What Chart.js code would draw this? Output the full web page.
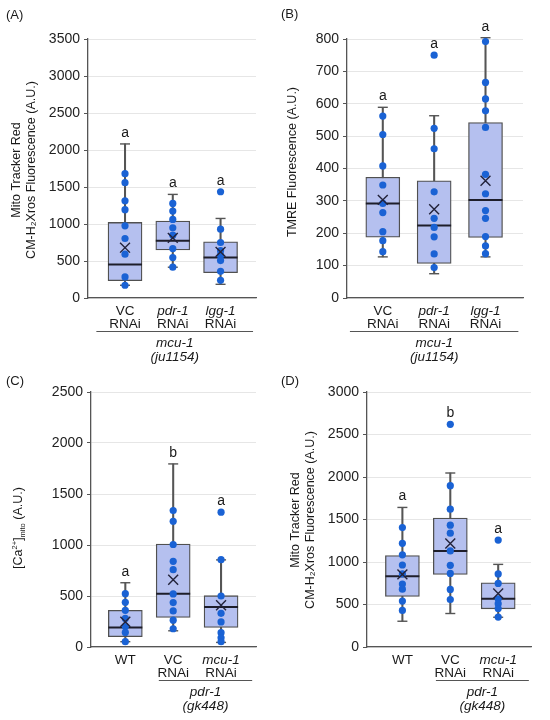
<!DOCTYPE html>
<html><head><meta charset="utf-8">
<script src="https://cdn.jsdelivr.net/npm/chart.js@4.4.1/dist/chart.umd.min.js"></script>
<style>
html,body{margin:0;padding:0;background:#fff;}
#wrap{position:relative;width:550px;height:720px;overflow:hidden;}
.pan{position:absolute;}
canvas{display:block;}
</style></head><body>
<div id="wrap">
<div class="pan" style="left:0;top:0"><canvas id="cA" width="275" height="372"></canvas></div>
<div class="pan" style="left:275px;top:0"><canvas id="cB" width="275" height="372"></canvas></div>
<div class="pan" style="left:0;top:360px"><canvas id="cC" width="275" height="360"></canvas></div>
<div class="pan" style="left:275px;top:360px"><canvas id="cD" width="275" height="360"></canvas></div>
</div>
<script>
// ---------- DATA ----------
// Panel A: Mito Tracker Red, mcu-1(ju1154)
const labelsA = [['VC','RNAi'],['pdr-1','RNAi'],['lgg-1','RNAi']];
const italicA = [false,true,true];
const groupA = ['mcu-1','(ju1154)'];
const lettersA = ['a','a','a'];
const yMaxA = 3500, yStepA = 500;
const whiskLowA  = [172, 416, 185];
const q1A        = [235, 650, 343];
const medianA    = [452, 772, 547];
const q3A        = [1021, 1039, 759];
const whiskHighA = [2082, 1400, 1075];
const meanA      = [680, 813, 623];
const ptsA_VC  = [1680, 1558, 1314, 1193, 976, 804, 592, 285, 172];
const ptsA_pdr = [1278, 1174, 1062, 949, 849, 668, 547, 416];
const ptsA_lgg = [1436, 930, 750, 640, 575, 506, 361, 239];

// Panel B: TMRE, mcu-1(ju1154)
const labelsB = [['VC','RNAi'],['pdr-1','RNAi'],['lgg-1','RNAi']];
const italicB = [false,true,true];
const groupB = ['mcu-1','(ju1154)'];
const lettersB = ['a','a','a'];
const yMaxB = 800, yStepB = 100;
const whiskLowB  = [127, 75, 127];
const q1B        = [188, 107, 187];
const medianB    = [292, 224, 303];
const q3B        = [373, 362, 542];
const whiskHighB = [589, 563, 804];
const meanB      = [303, 274, 362];
const ptsB_VC  = [562, 505, 408, 349, 292, 264, 205, 177, 143];
const ptsB_pdr = [750, 524, 461, 328, 246, 218, 189, 136, 94];
const ptsB_lgg = [792, 666, 615, 578, 527, 382, 322, 270, 246, 190, 161, 137];

// Panel C: [Ca2+]mito, pdr-1(gk448)
const labelsC = [['WT'],['VC','RNAi'],['mcu-1','RNAi']];
const italicC = [false,false,true];
const groupC = ['pdr-1','(gk448)'];
const lettersC = ['a','b','a'];
const yMaxC = 2500, yStepC = 500;
const whiskLowC  = [52, 159, 45];
const q1C        = [101, 289, 192];
const medianC    = [192, 523, 393];
const q3C        = [360, 1010, 503];
const whiskHighC = [630, 1795, 854];
const meanC      = [247, 659, 409];
const ptsC_WT  = [523, 438, 360, 280, 200, 143, 52];
const ptsC_VC  = [1338, 1233, 1005, 840, 758, 520, 436, 354, 263, 179];
const ptsC_mcu = [1322, 856, 500, 330, 246, 140, 90, 52];

// Panel D: Mito Tracker Red, pdr-1(gk448)
const labelsD = [['WT'],['VC','RNAi'],['mcu-1','RNAi']];
const italicD = [false,false,true];
const groupD = ['pdr-1','(gk448)'];
const lettersD = ['a','b','a'];
const yMaxD = 3000, yStepD = 500;
const whiskLowD  = [303, 394, 350];
const q1D        = [594, 854, 449];
const medianD    = [831, 1130, 567];
const q3D        = [1075, 1516, 756];
const whiskHighD = [1642, 2047, 972];
const meanD      = [854, 1217, 630];
const ptsD_WT  = [1405, 1220, 1085, 965, 860, 740, 680, 540, 430];
const ptsD_VC  = [2620, 1898, 1622, 1433, 1339, 1130, 961, 866, 677, 559];
const ptsD_mcu = [1258, 860, 748, 567, 510, 453, 352];

// ---------- DRAWING ----------
const FAM = '"Liberation Sans", Arial, Helvetica, sans-serif';
function font(size, italic){ return (italic ? 'italic ' : '') + size + 'px ' + FAM; }
const TXT = '#1a1a1a', AXIS = '#555';

function drawCaTitle(c, x, cy){
  c.save(); c.translate(x, cy); c.rotate(-Math.PI/2);
  const big = font(12.5), small = font(7.5);
  const parts = [['[Ca',big,0],['2+',small,-4.5],[']',big,0],['mito',small,4],[' (A.U.)',big,0]];
  let total = 0;
  parts.forEach(p => { c.font = p[1]; p.w = c.measureText(p[0]).width; total += p.w; });
  let px = -total/2; c.textAlign = 'left'; c.textBaseline = 'middle'; c.fillStyle = TXT;
  parts.forEach(p => { c.font = p[1]; c.fillText(p[0], px, p[2]); px += p.w; });
  c.restore();
}

function makePanel(id, P){
  const cv = document.getElementById(id);
  const H = cv.height, W = cv.width;
  const n = P.labels.length;
  const pts = [];
  P.points.forEach((arr, i) => arr.forEach(v => pts.push({x:i, y:v})));
  const caps = [];
  for (let i = 0; i < n; i++){ caps.push({x:i, y:P.lo[i]}); caps.push({x:i, y:P.hi[i]}); }

  const txtPlugin = {
    id: 'txt' + id,
    afterDraw(chart){
      const c = chart.ctx, xs = chart.scales.x, ys = chart.scales.y;
      const base = chart.chartArea.bottom;
      c.save();
      c.fillStyle = TXT; c.textAlign = 'center'; c.textBaseline = 'middle';
      // category labels
      P.labels.forEach((lab, i) => {
        const x = xs.getPixelForValue(i);
        c.font = font(13.5, P.italic[i]);
        c.fillText(lab[0], x, base + 13);
        if (lab.length > 1){ c.font = font(13.5, false); c.fillText(lab[1], x, base + 26.5); }
      });
      // bracket + group label
      const bx0 = xs.getPixelForValue(P.bracket[0]), bx1 = xs.getPixelForValue(P.bracket[1]);
      c.strokeStyle = AXIS; c.lineWidth = 1.2;
      c.beginPath(); c.moveTo(bx0, base + 33.5); c.lineTo(bx1, base + 33.5); c.stroke();
      const gx = (bx0 + bx1)/2;
      c.font = font(13.5, true);
      c.fillText(P.group[0], gx, base + 45);
      c.fillText(P.group[1], gx, base + 59);
      // significance letters
      c.textBaseline = 'alphabetic'; c.font = font(14);
      P.letters.forEach((L, i) => {
        const top = Math.max(P.hi[i], ...P.points[i]);
        c.fillText(L, xs.getPixelForValue(i), ys.getPixelForValue(top) - 7);
      });
      // y title
      if (P.caTitle){ drawCaTitle(c, P.caTitle.x, P.caTitle.cy); }
      else {
        P.yTitle.forEach(t => {
          c.save(); c.translate(t.x, P.titleCy); c.rotate(-Math.PI/2);
          c.font = font(12.5); c.textAlign = 'center'; c.textBaseline = 'middle';
          c.fillText(t.text, 0, 0); c.restore();
        });
      }
      // panel letter
      c.font = font(13); c.textAlign = 'left'; c.textBaseline = 'middle';
      c.fillText(P.panel, 6, P.panelY);
      c.restore();
    }
  };

  new Chart(cv, {
    type: 'bar',
    data: { datasets: [
      { type:'bar', data: P.lo.map((v,i)=>({x:i, y:[v, P.hi[i]]})), backgroundColor: AXIS,
        barThickness: 1.4, grouped:false, order:6, clip:false },
      { type:'bar', data: P.q1.map((v,i)=>({x:i, y:[v, P.q3[i]]})), backgroundColor:'#b5c0ef',
        borderColor:'#505050', borderWidth:1.3, borderSkipped:false, barThickness:34, grouped:false, order:5, clip:false },
      { type:'scatter', data: caps, pointStyle:'line', pointRadius:5, pointBorderColor: AXIS,
        pointBorderWidth:1.4, order:4, clip:false },
      { type:'scatter', data: P.med.map((v,i)=>({x:i, y:v})), pointStyle:'line', pointRadius:17,
        pointBorderColor:'#1e1e2a', pointBorderWidth:2, order:3, clip:false },
      { type:'scatter', data: pts, pointStyle:'circle', pointRadius:3.6, pointBackgroundColor:'#1a62d4',
        pointBorderWidth:0, order:2, clip:false },
      { type:'scatter', data: P.mean.map((v,i)=>({x:i, y:v})), pointStyle:'crossRot', pointRadius:7,
        pointBorderColor:'#22223a', pointBorderWidth:1.4, order:1, clip:false }
    ]},
    options: {
      responsive:false, animation:false, events:[],
      layout: { padding: { top:P.T, right: W - P.R, left:0, bottom:0 } },
      plugins: { legend:{display:false}, tooltip:{enabled:false} },
      scales: {
        x: { type:'linear', min:P.xmin, max:P.xmax, offset:false,
             ticks:{display:false}, grid:{display:false, offset:false},
             border:{display:true, color:AXIS, width:1.3},
             afterFit: s => { s.height = H - P.B; } },
        y: { type:'linear', min:0, max:P.ymax,
             ticks:{ stepSize:P.step, callback: v => String(v), color:'#222', font:{family:FAM, size:14}, padding:4 },
             grid:{ color:'#e6e6e6', lineWidth:1, tickLength:4, tickColor:AXIS },
             border:{ color:AXIS, width:1.3 },
             afterFit: s => { s.width = P.L; } }
      }
    },
    plugins: [txtPlugin]
  });
}

makePanel('cA', {
  labels:labelsA, italic:italicA, group:groupA, letters:lettersA, ymax:yMaxA, step:yStepA,
  lo:whiskLowA, q1:q1A, med:medianA, q3:q3A, hi:whiskHighA, mean:meanA,
  points:[ptsA_VC, ptsA_pdr, ptsA_lgg],
  L:88, R:268, T:39, B:298, xmin:-0.775, xmax:2.742, bracket:[-0.6, 2.68],
  yTitle:[{text:'Mito Tracker Red', x:17},{text:'CM-H\u2082Xros Fluorescence (A.U.)', x:32}], titleCy:170,
  panel:'(A)', panelY:15
});
makePanel('cB', {
  labels:labelsB, italic:italicB, group:groupB, letters:lettersB, ymax:yMaxB, step:yStepB,
  lo:whiskLowB, q1:q1B, med:medianB, q3:q3B, hi:whiskHighB, mean:meanB,
  points:[ptsB_VC, ptsB_pdr, ptsB_lgg],
  L:72, R:248, T:39, B:298, xmin:-0.697, xmax:2.73, bracket:[-0.64, 2.64],
  yTitle:[{text:'TMRE Fluorescence (A.U.)', x:18}], titleCy:162,
  panel:'(B)', panelY:14
});
makePanel('cC', {
  labels:labelsC, italic:italicC, group:groupC, letters:lettersC, ymax:yMaxC, step:yStepC,
  lo:whiskLowC, q1:q1C, med:medianC, q3:q3C, hi:whiskHighC, mean:meanC,
  points:[ptsC_WT, ptsC_VC, ptsC_mcu],
  L:91, R:268, T:32, B:287, xmin:-0.717, xmax:2.73, bracket:[0.7, 2.65],
  caTitle:{x:19, cy:168},
  panel:'(C)', panelY:21
});
makePanel('cD', {
  labels:labelsD, italic:italicD, group:groupD, letters:lettersD, ymax:yMaxD, step:yStepD,
  lo:whiskLowD, q1:q1D, med:medianD, q3:q3D, hi:whiskHighD, mean:meanD,
  points:[ptsD_WT, ptsD_VC, ptsD_mcu],
  L:92, R:268, T:32, B:287, xmin:-0.739, xmax:2.685, bracket:[0.7, 2.64],
  yTitle:[{text:'Mito Tracker Red', x:21},{text:'CM-H\u2082Xros Fluorescence (A.U.)', x:36}], titleCy:160,
  panel:'(D)', panelY:21
});
</script>
</body></html>
